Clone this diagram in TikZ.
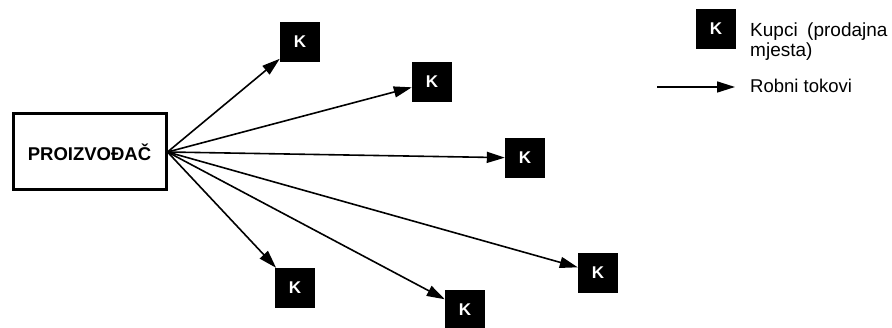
\documentclass[tikz,border=0pt]{standalone}
\usepackage{fontspec}
\setmainfont{Liberation Sans}
\usetikzlibrary{arrows.meta}
\tikzstyle{proizvodjac} = [rectangle,
                           minimum width=153pt,
                           minimum height=76pt,
                           text centered,
                           draw=black,
                           line width=3pt,
                           font=\fontsize{18.5}{21}\selectfont\bfseries]
\tikzstyle{kupac} = [rectangle,
                     minimum size=40pt,
                     fill=black,
                     text=white,
                     font=\fontsize{17}{19}\selectfont\bfseries]
\tikzstyle{legenda} = [anchor=base west,
                       inner sep=0pt,
                       font=\fontsize{19}{20}\selectfont]
\tikzstyle{tok} = [line width=1.6pt,
                   -{Triangle[length=18pt,width=11pt]}]

\begin{document}
\begin{tikzpicture}[x=1pt, y=-1pt]
    \useasboundingbox (0,0) rectangle (892,328);

    \node (proiz) [proizvodjac] at (89.5,152) {PROIZVOĐAČ};
    \node (k1)    [kupac]       at (300,42)  {K};
    \node (k2)    [kupac]       at (432,82)  {K};
    \node (k3)    [kupac]       at (525,158) {K};
    \node (k4)    [kupac]       at (295,288) {K};
    \node (k5)    [kupac]       at (465,310) {K};
    \node (k6)    [kupac]       at (598,273) {K};

    \draw [tok] (proiz.east) -- (k1);
    \draw [tok] (proiz.east) -- (k2);
    \draw [tok] (proiz.east) -- (k3);
    \draw [tok] (proiz.east) -- (k4);
    \draw [tok] (proiz.east) -- (k5);
    \draw [tok] (proiz.east) -- (k6);

    % legenda
    \node (legk)   [kupac] at (716,29) {K};
    \node (kupci)  [legenda] at (750,37) {Kupci\hspace{0.5em}(prodajna};
    \node (mjesta) [legenda] at (750,57) {mjesta)};
    \coordinate (legpoc) at (657,87);
    \coordinate (legkraj) at (735,87);
    \node (robni)  [legenda, font=\fontsize{18.5}{20}\selectfont] at (750,93) {Robni tokovi};
    \draw [tok] (legpoc) -- (legkraj);

  \end{tikzpicture}
\end{document}
